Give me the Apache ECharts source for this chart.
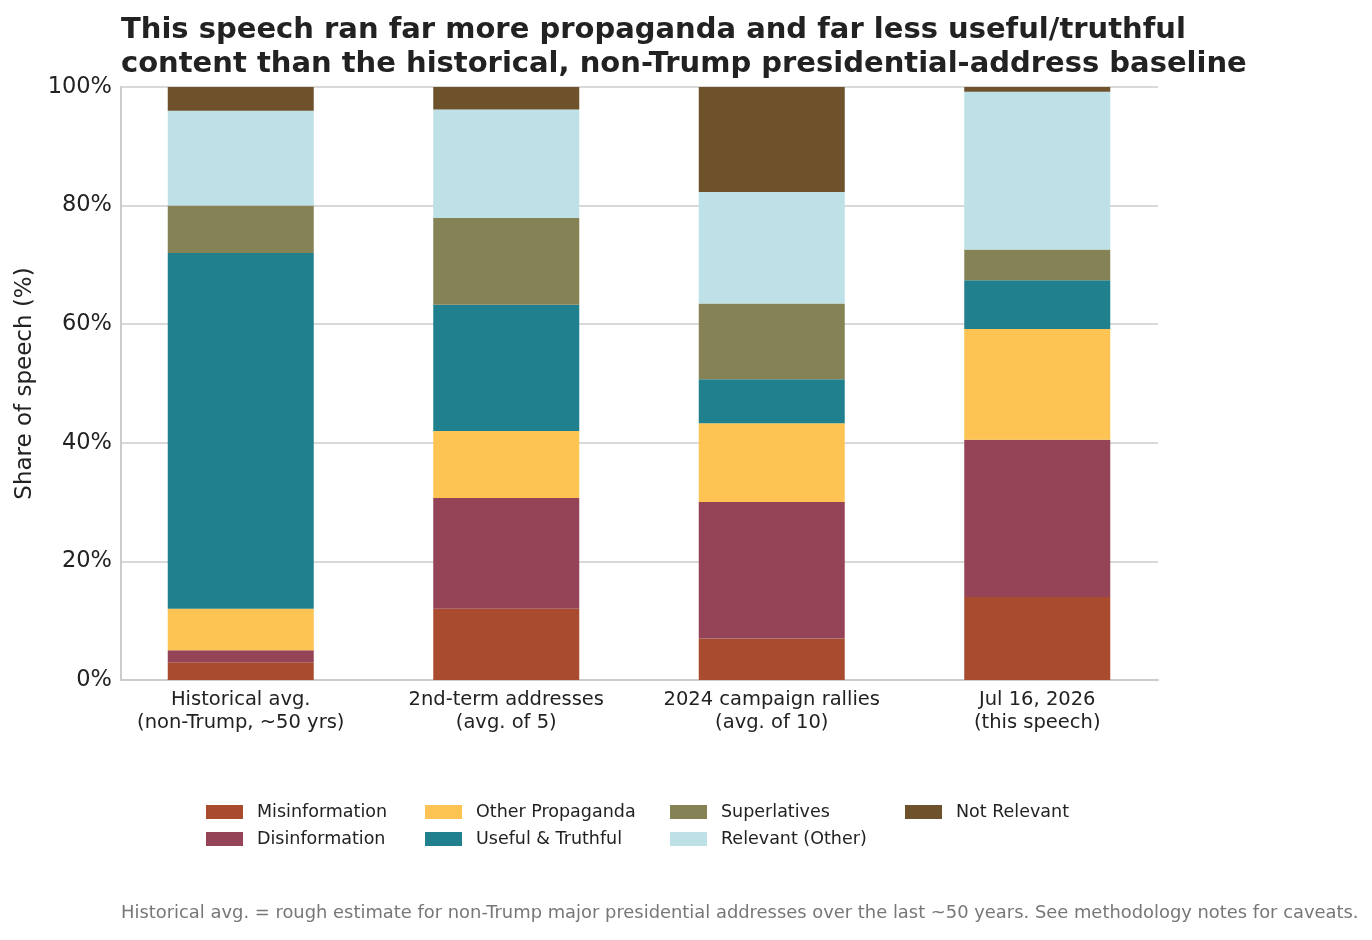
<!DOCTYPE html>
<html>
<head>
<meta charset="utf-8">
<script src="https://cdn.jsdelivr.net/npm/echarts@6/dist/echarts.min.js"></script>
<style>html,body{margin:0;padding:0;background:#fff}#chart{width:1372px;height:940px}</style>
</head>
<body>
<div id="chart"></div>
<script>
const categories = ['Historical avg.\n(non-Trump, ~50 yrs)', '2nd-term addresses\n(avg. of 5)', '2024 campaign rallies\n(avg. of 10)', 'Jul 16, 2026\n(this speech)'];
const misinformation = [3, 12, 7, 14];
const disinformation = [2, 18.7, 23, 26.5];
const otherPropaganda = [7, 11.3, 13.3, 18.7];
const usefulTruthful = [60, 21.3, 7.4, 8.2];
const superlatives = [8, 14.6, 12.8, 5.2];
const relevantOther = [16, 18.3, 18.8, 26.6];
const notRelevant = [4, 3.8, 17.7, 0.8];

const seriesDefs = [
  ['Misinformation', misinformation, '#A84B2F'],
  ['Disinformation', disinformation, '#944456'],
  ['Other Propaganda', otherPropaganda, '#FDC453'],
  ['Useful & Truthful', usefulTruthful, '#20808D'],
  ['Superlatives', superlatives, '#858256'],
  ['Relevant (Other)', relevantOther, '#BDE1E6'],
  ['Not Relevant', notRelevant, '#6D522C']
];
const FONT = 'DejaVu Sans';
const chart = echarts.init(document.getElementById('chart'), null, {renderer: 'canvas'});
const legendCols = [[0, 1], [2, 3], [4, 5], [6]];
const legendLefts = [206, 425, 670, 905];
const legends = legendCols.map((idx, i) => ({
  orient: 'vertical',
  left: legendLefts[i],
  top: 802,
  padding: 0,
  itemWidth: 37,
  itemHeight: 14,
  itemGap: 7,
  icon: 'rect',
  selectedMode: false,
  data: idx.map(k => seriesDefs[k][0]),
  textStyle: {fontFamily: FONT, fontSize: 17.5, color: '#222', lineHeight: 20, padding: [0, 0, 0, 9]}
}));

chart.setOption({
  animation: false,
  backgroundColor: '#fff',
  title: [
    {
      text: 'This speech ran far more propaganda and far less useful/truthful\ncontent than the historical, non-Trump presidential-address baseline',
      left: 121, top: 13, padding: 0,
      textStyle: {fontFamily: FONT, fontSize: 29, fontWeight: 'bold', color: '#222', lineHeight: 34}
    },
    {
      text: 'Historical avg. = rough estimate for non-Trump major presidential addresses over the last ~50 years. See methodology notes for caveats.',
      left: 121, top: 904, padding: 0,
      textStyle: {fontFamily: FONT, fontSize: 17.9, fontWeight: 'normal', color: '#777'}
    }
  ],
  legend: legends,
  grid: [
    {left: 121, top: 87, width: 1037, height: 593, containLabel: false},
    {left: 108, top: 87, width: 1062, height: 593, containLabel: false}
  ],
  xAxis: [
    {
      type: 'value', gridIndex: 0, min: 0, max: 1,
      axisLine: {show: true, lineStyle: {color: '#cccccc', width: 2}},
      axisTick: {show: false}, axisLabel: {show: false}, splitLine: {show: false}
    },
    {
      type: 'category', gridIndex: 1, data: categories, boundaryGap: true,
      axisLine: {show: false}, axisTick: {show: false}, splitLine: {show: false},
      axisLabel: {fontFamily: FONT, fontSize: 19.5, color: '#222', lineHeight: 23, margin: 8, interval: 0}
    }
  ],
  yAxis: [
    {
      type: 'value', gridIndex: 0, min: 0, max: 100, interval: 20,
      name: 'Share of speech (%)', nameLocation: 'middle', nameGap: 84,
      nameTextStyle: {fontFamily: FONT, fontSize: 23, color: '#222'},
      axisLine: {show: true, onZero: false, lineStyle: {color: '#cccccc', width: 2}},
      axisTick: {show: false},
      splitLine: {show: true, lineStyle: {color: '#cccccc', width: 1.5}},
      axisLabel: {formatter: '{value}%', fontFamily: FONT, fontSize: 22.5, color: '#222', margin: 9}
    },
    {
      type: 'value', gridIndex: 1, min: 0, max: 100, show: false
    }
  ],
  series: seriesDefs.map(([name, vals, color]) => ({
    name, type: 'bar', stack: 'total', barWidth: 146,
    xAxisIndex: 1, yAxisIndex: 1,
    itemStyle: {color},
    emphasis: {disabled: true},
    data: vals
  }))
});
</script>
</body>
</html>
